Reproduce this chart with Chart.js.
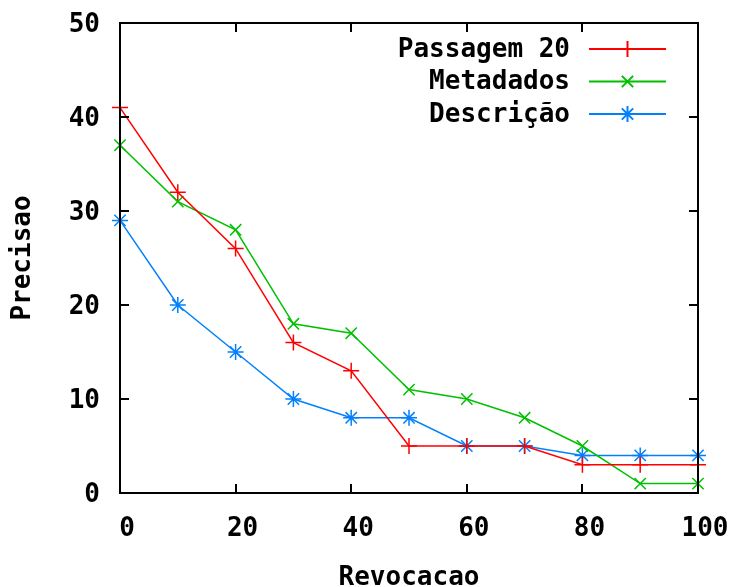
<!DOCTYPE html>
<html>
<head>
<meta charset="utf-8">
<script src="https://cdn.jsdelivr.net/npm/chart.js@4/dist/chart.umd.min.js"></script>
<style>
  html, body { margin: 0; padding: 0; background: #fff; }
  #wrap { width: 731px; height: 587px; }
</style>
</head>
<body>
<div id="wrap"><canvas id="c"></canvas></div>
<script>
const recall = [0, 10, 20, 30, 40, 50, 60, 70, 80, 90, 100];
const passagem20 = [41, 32, 26, 16, 13, 5, 5, 5, 3, 3, 3];
const metadados = [37, 31, 28, 18, 17, 11, 10, 8, 5, 1, 1];
const descricao = [29, 20, 15, 10, 8, 8, 5, 5, 4, 4, 4];
const seriesNames = ['Passagem 20', 'Metadados', 'Descrição'];

const FONT = "'DejaVu Sans Mono', 'Liberation Mono', monospace";

function toPoints(values) {
    return values.map((v, i) => ({ x: recall[i], y: v }));
}

function makeSet(label, values, color, style) {
    return {
        label: label,
        data: toPoints(values),
        borderColor: color,
        backgroundColor: color,
        borderWidth: 1.5,
        pointStyle: style,
        pointRadius: 8,
        pointBorderWidth: 1.5,
        pointBorderColor: color,
        tension: 0,
        fill: false,
        clip: false
    };
}

// gnuplot style frame: inward ticks on all four sides, box round the plot
const frameTicks = {
    id: 'frameTicks',
    afterDraw(chart) {
        const ctx = chart.ctx;
        const a = chart.chartArea;
        const xs = chart.scales.x;
        const ys = chart.scales.y;
        const len = 9;
        ctx.save();
        ctx.strokeStyle = '#000';
        ctx.lineWidth = 2;
        ctx.strokeRect(a.left, a.top, a.right - a.left, a.bottom - a.top);
        ctx.beginPath();
        xs.ticks.forEach(t => {
            const px = Math.round(xs.getPixelForValue(t.value));
            ctx.moveTo(px, a.bottom); ctx.lineTo(px, a.bottom - len);
            ctx.moveTo(px, a.top); ctx.lineTo(px, a.top + len);
        });
        ys.ticks.forEach(t => {
            const py = Math.round(ys.getPixelForValue(t.value));
            ctx.moveTo(a.left, py); ctx.lineTo(a.left + len, py);
            ctx.moveTo(a.right, py); ctx.lineTo(a.right - len, py);
        });
        ctx.stroke();
        ctx.restore();
    }
};

// key inside the plot, top right: text right aligned, then line sample with marker
const insideKey = {
    id: 'insideKey',
    afterDraw(chart) {
        const ctx = chart.ctx;
        const a = chart.chartArea;
        const textRight = a.right - 128;
        const x0 = a.right - 109;
        const x1 = a.right - 32;
        const top = a.top + 26;
        const step = 32.5;
        ctx.save();
        ctx.font = 'bold 26px ' + FONT;
        ctx.textAlign = 'right';
        ctx.textBaseline = 'middle';
        chart.data.datasets.forEach((ds, i) => {
            const y = top + i * step;
            ctx.fillStyle = '#000';
            ctx.fillText(ds.label, textRight, y + 1);
            ctx.strokeStyle = ds.borderColor;
            ctx.lineWidth = 2;
            ctx.beginPath();
            ctx.moveTo(x0, y);
            ctx.lineTo(x1, y);
            ctx.stroke();
            Chart.helpers.drawPoint(ctx, {
                pointStyle: ds.pointStyle,
                radius: 8,
                rotation: 0,
                borderWidth: 1.5
            }, (x0 + x1) / 2, y);
        });
        ctx.restore();
    }
};

new Chart(document.getElementById('c'), {
    type: 'line',
    data: {
        datasets: [
            makeSet(seriesNames[0], passagem20, '#ff0000', 'cross'),
            makeSet(seriesNames[1], metadados, '#00c000', 'crossRot'),
            makeSet(seriesNames[2], descricao, '#0080ff', 'star')
        ]
    },
    options: {
        responsive: true,
        maintainAspectRatio: false,
        animation: false,
        layout: {
            padding: { top: 23, right: 33, left: 0, bottom: 0 }
        },
        plugins: {
            legend: { display: false },
            tooltip: { enabled: false }
        },
        scales: {
            x: {
                type: 'linear',
                min: 0,
                max: 100,
                grid: { display: false, drawTicks: false },
                border: { display: false },
                afterFit: function (axis) {
                    axis.height = 94;
                    axis.paddingLeft = 0;
                    axis.paddingRight = 0;
                },
                ticks: {
                    stepSize: 20,
                    padding: 21,
                    labelOffset: 7,
                    color: '#000',
                    font: { family: FONT, size: 26, weight: 'bold' }
                },
                title: {
                    display: true,
                    text: 'Revocacao',
                    color: '#000',
                    padding: { top: 0, bottom: -4 },
                    font: { family: FONT, size: 26, weight: 'bold', lineHeight: 1 }
                }
            },
            y: {
                type: 'linear',
                min: 0,
                max: 50,
                grid: { display: false, drawTicks: false },
                border: { display: false },
                afterFit: function (axis) {
                    axis.width = 120;
                    axis.paddingTop = 0;
                    axis.paddingBottom = 0;
                },
                ticks: {
                    stepSize: 10,
                    padding: 20,
                    labelOffset: 2,
                    color: '#000',
                    font: { family: FONT, size: 26, weight: 'bold' }
                },
                title: {
                    display: true,
                    text: 'Precisao',
                    color: '#000',
                    padding: { top: 10, bottom: 0 },
                    font: { family: FONT, size: 26, weight: 'bold', lineHeight: 1 }
                }
            }
        }
    },
    plugins: [frameTicks, insideKey]
});
</script>
</body>
</html>
